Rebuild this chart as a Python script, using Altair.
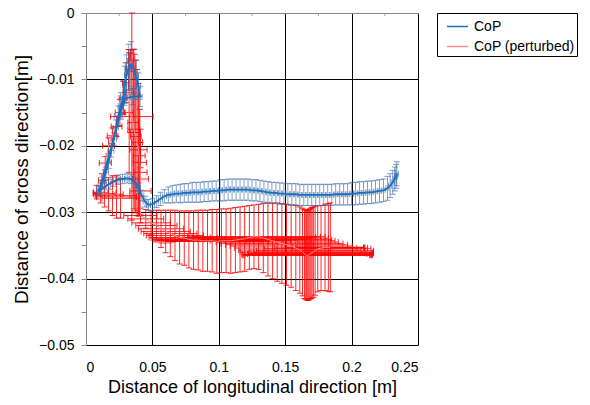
import altair as alt
import pandas as pd

# ---------------- data ----------------
# CoP (blue): trajectory order
cop_x = [0.0095, 0.0125, 0.0150, 0.0170, 0.0190, 0.0210, 0.0225, 0.0243, 0.0262, 0.0281,
         0.0292, 0.0305, 0.0322, 0.0340, 0.0358, 0.0378, 0.0395, 0.0407, 0.0350, 0.0290,
         0.0100, 0.0135, 0.0170, 0.0205, 0.0240, 0.0275, 0.0310, 0.0340, 0.0370, 0.0395,
         0.0420, 0.0445, 0.0470, 0.0500, 0.0530, 0.0560, 0.0590,
         0.062, 0.065, 0.068, 0.071, 0.074, 0.077, 0.080, 0.083, 0.086, 0.089,
         0.092, 0.095, 0.098, 0.101, 0.104, 0.107, 0.110, 0.113, 0.116, 0.119,
         0.122, 0.125, 0.128, 0.131, 0.134, 0.137, 0.140, 0.143, 0.146, 0.149,
         0.152, 0.155, 0.158, 0.161, 0.164, 0.167, 0.170, 0.173, 0.176, 0.179,
         0.182, 0.185, 0.188, 0.191, 0.194, 0.197, 0.200, 0.203, 0.206, 0.209,
         0.212, 0.215, 0.218, 0.221, 0.224, 0.227, 0.229, 0.231, 0.2325, 0.2335, 0.234]
cop_y = [-0.0267, -0.0255, -0.0240, -0.0224, -0.0207, -0.0190, -0.0173, -0.0155, -0.0140, -0.0127,
         -0.0108, -0.0093, -0.0082, -0.0077, -0.0084, -0.0096, -0.0110, -0.0126, -0.0126, -0.0129,
         -0.0268, -0.0263, -0.0258, -0.0254, -0.0251, -0.0250, -0.0249, -0.0250, -0.0255, -0.0264,
         -0.0275, -0.0284, -0.0289, -0.0288, -0.0284, -0.0280, -0.0276,
         -0.0274, -0.0273, -0.0272, -0.0272, -0.0271, -0.0271, -0.0270, -0.0270, -0.0270, -0.0269,
         -0.0269, -0.0268, -0.0268, -0.0267, -0.0267, -0.0266, -0.0266, -0.0266, -0.0266, -0.0266,
         -0.0266, -0.0267, -0.0267, -0.0268, -0.0269, -0.0270, -0.0271, -0.0271, -0.0272, -0.0272,
         -0.0273, -0.0273, -0.0273, -0.0274, -0.0274, -0.0274, -0.0274, -0.0274, -0.0274, -0.0274,
         -0.0274, -0.0274, -0.0273, -0.0273, -0.0273, -0.0273, -0.0272, -0.0272, -0.0271, -0.0271,
         -0.0270, -0.0270, -0.0269, -0.0268, -0.0267, -0.0264, -0.0260, -0.0255, -0.0250, -0.0246, -0.0242]
cop_xerr = [0.0015, 0.0015, 0.0020, 0.0020, 0.0020, 0.0020, 0.0020, 0.0030, 0.0020, 0.0020,
            0.0015, 0.0015, 0.0015, 0.0015, 0.0015, 0.0015, 0.0015, 0.0015, 0.0015, 0.0015,
            0.0015, 0.0015, 0.0015, 0.0015, 0.0015, 0.0015, 0.0015, 0.0015, 0.0015, 0.0015,
            0.0015, 0.0015, 0.0015, 0.0015, 0.0015, 0.0015, 0.0015,
            0.0012, 0.0012, 0.0012, 0.0012, 0.0012, 0.0012, 0.0012, 0.0012, 0.0012, 0.0012,
            0.0012, 0.0012, 0.0012, 0.0012, 0.0012, 0.0012, 0.0012, 0.0012, 0.0012, 0.0012,
            0.0012, 0.0012, 0.0012, 0.0012, 0.0012, 0.0012, 0.0012, 0.0012, 0.0012, 0.0012,
            0.0012, 0.0012, 0.0012, 0.0012, 0.0012, 0.0012, 0.0012, 0.0012, 0.0012, 0.0012,
            0.0012, 0.0012, 0.0012, 0.0012, 0.0012, 0.0012, 0.0012, 0.0012, 0.0012, 0.0012,
            0.0012, 0.0012, 0.0012, 0.0012, 0.0012, 0.0012, 0.0012, 0.0012, 0.0012, 0.0012, 0.0012]
cop_yerr = [0.0008, 0.0008, 0.0008, 0.0010, 0.0010, 0.0010, 0.0012, 0.0015, 0.0020, 0.0025,
            0.0028, 0.0030, 0.0035, 0.0034, 0.0030, 0.0025, 0.0020, 0.0015, 0.0012, 0.0010,
            0.0007, 0.0007, 0.0007, 0.0007, 0.0007, 0.0007, 0.0007, 0.0007, 0.0008, 0.0008,
            0.0008, 0.0008, 0.0008, 0.0009, 0.0009, 0.0010, 0.0010,
            0.0012, 0.0013, 0.0013, 0.0014, 0.0014, 0.0014, 0.0015, 0.0015, 0.0015, 0.0015,
            0.0015, 0.0015, 0.0015, 0.0016, 0.0016, 0.0016, 0.0016, 0.0016, 0.0016, 0.0016,
            0.0016, 0.0016, 0.0016, 0.0016, 0.0016, 0.0016, 0.0016, 0.0016, 0.0016, 0.0016,
            0.0016, 0.0016, 0.0016, 0.0016, 0.0016, 0.0016, 0.0016, 0.0016, 0.0016, 0.0016,
            0.0016, 0.0016, 0.0016, 0.0016, 0.0016, 0.0016, 0.0017, 0.0017, 0.0017, 0.0017,
            0.0017, 0.0017, 0.0017, 0.0017, 0.0017, 0.0018, 0.0018, 0.0018, 0.0018, 0.0018, 0.0018]

# CoP (perturbed) (red): trajectory order
pert_x = [0.0080, 0.0110, 0.0140, 0.0170, 0.0200, 0.0230, 0.0260,
          0.0120, 0.0145, 0.0170, 0.0200, 0.0230, 0.0255, 0.0280, 0.0300, 0.0320, 0.0335,
          0.0330, 0.0325, 0.0345, 0.0355, 0.0360, 0.0368, 0.0375, 0.0385, 0.0395, 0.0400,
          0.0405, 0.0410, 0.0410, 0.0410,
          0.0410, 0.0450, 0.0490, 0.0530, 0.0565, 0.0600, 0.0635, 0.0670,
          0.0705, 0.0740, 0.0775, 0.0810, 0.0845, 0.0880, 0.0915, 0.0950, 0.0985, 0.1020,
          0.1055, 0.1090, 0.1125, 0.1160, 0.1195, 0.1230, 0.1265, 0.1300, 0.1335, 0.1370,
          0.1405, 0.1440, 0.1475, 0.1510, 0.1545, 0.1580, 0.1610,
          0.1630, 0.1645, 0.1655, 0.1662, 0.1670, 0.1678, 0.1686, 0.1694, 0.1702, 0.1712,
          0.1725, 0.1745, 0.1770, 0.1800, 0.1825, 0.1840]
pert_y = [-0.0270, -0.0271, -0.0272, -0.0273, -0.0275, -0.0277, -0.0279,
          -0.0252, -0.0226, -0.0200, -0.0185, -0.0171, -0.0150, -0.0128, -0.0105, -0.0085, -0.0072,
          -0.0120, -0.0150, -0.0156, -0.0165, -0.0175, -0.0180, -0.0186, -0.0195, -0.0206, -0.0215,
          -0.0225, -0.0240, -0.0250, -0.0268,
          -0.0305, -0.0310, -0.0316, -0.0320, -0.0325, -0.0329, -0.0332, -0.0335,
          -0.0338, -0.0339, -0.0341, -0.0342, -0.0342, -0.0343, -0.0343, -0.0343, -0.0344, -0.0343,
          -0.0343, -0.0343, -0.0342, -0.0341, -0.0340, -0.0338, -0.0337, -0.0337, -0.0339, -0.0341,
          -0.0343, -0.0345, -0.0347, -0.0349, -0.0351, -0.0354, -0.0357,
          -0.0360, -0.0363, -0.0364, -0.0365, -0.0365, -0.0364, -0.0363, -0.0362, -0.0361, -0.0360,
          -0.0358, -0.0355, -0.0354, -0.0353, -0.0353, -0.0353]
pert_xerr = [0.0025, 0.0055, 0.0085, 0.0110, 0.0130, 0.0150, 0.0140,
             0.0025, 0.0045, 0.0045, 0.0040, 0.0040, 0.0035, 0.0030, 0.0025, 0.0020, 0.0020,
             0.0030, 0.0030, 0.0160, 0.0040, 0.0045, 0.0035, 0.0040, 0.0040, 0.0065, 0.0045,
             0.0050, 0.0050, 0.0060, 0.0080,
             0.0125, 0.0135, 0.0145, 0.0155, 0.0170, 0.0185, 0.0200, 0.0215,
             0.023, 0.025, 0.027, 0.029, 0.031, 0.033, 0.035, 0.037, 0.039, 0.041,
             0.043, 0.045, 0.047, 0.049, 0.050, 0.050, 0.050, 0.050, 0.049, 0.048,
             0.047, 0.046, 0.046, 0.046, 0.046, 0.046, 0.046,
             0.047, 0.047, 0.048, 0.048, 0.048, 0.048, 0.047, 0.047, 0.046, 0.045,
             0.044, 0.040, 0.035, 0.030, 0.027, 0.025]
pert_yerr = [0.0010, 0.0015, 0.0020, 0.0025, 0.0030, 0.0032, 0.0030,
             0.0010, 0.0010, 0.0012, 0.0012, 0.0015, 0.0020, 0.0025, 0.0030, 0.0030, 0.0016,
             0.0060, 0.0090, 0.0156, 0.0110, 0.0120, 0.0118, 0.0115, 0.0110, 0.0100, 0.0090,
             0.0080, 0.0065, 0.0055, 0.0035,
             0.0011, 0.0014, 0.0018, 0.0023, 0.0028, 0.0032, 0.0035, 0.0038,
             0.0040, 0.0041, 0.0043, 0.0044, 0.0045, 0.0046, 0.0046, 0.0047, 0.0048, 0.0048,
             0.0048, 0.0049, 0.0049, 0.0049, 0.0049, 0.0048, 0.0048, 0.0049, 0.0052, 0.0055,
             0.0057, 0.0059, 0.0060, 0.0061, 0.0062, 0.0064, 0.0065,
             0.0066, 0.0067, 0.0067, 0.0067, 0.0068, 0.0068, 0.0068, 0.0068, 0.0068, 0.0068,
             0.0067, 0.0065, 0.0064, 0.0065, 0.0066, 0.0067]

series_names = ["CoP", "CoP (perturbed)"]
x_ticks = [0, 0.05, 0.1, 0.15, 0.2, 0.25]
y_ticks = [-0.05, -0.045, -0.04, -0.035, -0.03, -0.025, -0.02, -0.015, -0.01, -0.005, 0]
top_minor = [0.025, 0.075, 0.125, 0.175, 0.225]

# ---------------- tables ----------------
def table(name, xs, ys, xe, ye):
    return pd.DataFrame({
        "series": name,
        "idx": list(range(len(xs))),
        "x": xs,
        "y": ys,
        "xlo": [a - b for a, b in zip(xs, xe)],
        "xhi": [a + b for a, b in zip(xs, xe)],
        "ylo": [a - b for a, b in zip(ys, ye)],
        "yhi": [a + b for a, b in zip(ys, ye)],
    })

blue = table(series_names[0], cop_x, cop_y, cop_xerr, cop_yerr)
red = table(series_names[1], pert_x, pert_y, pert_xerr, pert_yerr)

FONT = "Liberation Sans"
BLUE_LINE = "#1A70C0"
BLUE_ERR = "#3A6AA8"
RED_ERR = "#FF0000"
RED_LINE = "#FF8C8C"

xscale = alt.Scale(domain=[0, 0.25], nice=False, zero=False)
yscale = alt.Scale(domain=[-0.05, 0], nice=False, zero=False)

xaxis = alt.Axis(
    values=x_ticks, format="~g", title="Distance of longitudinal direction [m]",
    domain=False, ticks=False, tickSize=0, labelPadding=15,
    grid=True, gridColor="black", gridWidth=1,
    gridOpacity={"condition": {"test": "datum.value == 0", "value": 0}, "value": 1},
    labelFont=FONT, labelFontSize=14, labelColor="black",
    titleFont=FONT, titleFontSize=18, titleColor="black", titleFontWeight="normal",
    titleY=42, titleBaseline="middle",
)
major = "abs(datum.value * 100 - round(datum.value * 100)) < 0.001"
yaxis = alt.Axis(
    values=y_ticks, format="~g", labelExpr=major + " ? datum.label : ''",
    title="Distance of cross direction[m]",
    domain=True, domainColor="#888888", ticks=True, tickColor="#888888", tickSize=5,
    labelPadding=7,
    grid=True, gridWidth=1,
    gridColor={"condition": {"test": "datum.value == 0", "value": "#888888"}, "value": "black"},
    gridOpacity={"condition": {"test": major, "value": 1}, "value": 0},
    labelFont=FONT, labelFontSize=14, labelColor="black",
    titleFont=FONT, titleFontSize=19, titleColor="black", titleFontWeight="normal",
    titleX=-65, titleY=166, titleAngle=270, titleAlign="center", titleBaseline="middle",
)

def X(field):
    return alt.X(field, type="quantitative", scale=xscale, axis=xaxis)

def Y(field):
    return alt.Y(field, type="quantitative", scale=yscale, axis=yaxis)

cscale = alt.Scale(domain=series_names, range=[BLUE_LINE, RED_LINE])
legend = alt.Legend(
    title=None, orient="none", legendX=351, legendY=0,
    strokeColor="black", fillColor="white", padding=2,
    labelFont=FONT, labelFontSize=14, labelColor="black", labelOffset=5,
    symbolType="stroke", symbolSize=441, symbolOffset=7, symbolStrokeWidth=1.5,
    rowPadding=1, direction="vertical",
)

def error_layers(df, color, op):
    v = alt.Chart(df).mark_rule(color=color, opacity=op, strokeWidth=1).encode(
        x=X("x"), y=Y("ylo"), y2="yhi")
    h = alt.Chart(df).mark_rule(color=color, opacity=op, strokeWidth=1).encode(
        x=X("xlo"), x2="xhi", y=Y("y"))
    yc = alt.Chart(df).transform_fold(["ylo", "yhi"], as_=["k", "cy"]).mark_tick(
        orient="horizontal", size=6, thickness=1, color=color, opacity=op).encode(
        x=X("x"), y=Y("cy"))
    xc = alt.Chart(df).transform_fold(["xlo", "xhi"], as_=["k", "cx"]).mark_tick(
        orient="vertical", size=6, thickness=1, color=color, opacity=op).encode(
        x=X("cx"), y=Y("y"))
    return [v, h, yc, xc]

def line_layer(df, width):
    return alt.Chart(df).mark_line(strokeWidth=width).encode(
        x=X("x"), y=Y("y"),
        color=alt.Color("series:N", scale=cscale, legend=legend),
        order=alt.Order("idx:Q"),
    )

top_ticks = alt.Chart(pd.DataFrame({"v": top_minor, "yv": [0] * len(top_minor)})).mark_tick(
    orient="vertical", size=3, thickness=1, color="#888888", yOffset=1.5).encode(
    x=X("v"), y=Y("yv"))

layers = (error_layers(red, RED_ERR, 0.85) + [line_layer(red, 1)]
          + error_layers(blue, BLUE_ERR, 0.65) + [line_layer(blue, 1.8), top_ticks])

chart = alt.layer(*layers).properties(
    width=332, height=332,
    autosize=alt.AutoSizeParams(type="none"),
    padding={"left": 86, "top": 13, "right": 172, "bottom": 60},
    background="white",
).configure_view(stroke=None)

chart.save("out.html", embed_options={"renderer": "svg", "actions": False})
